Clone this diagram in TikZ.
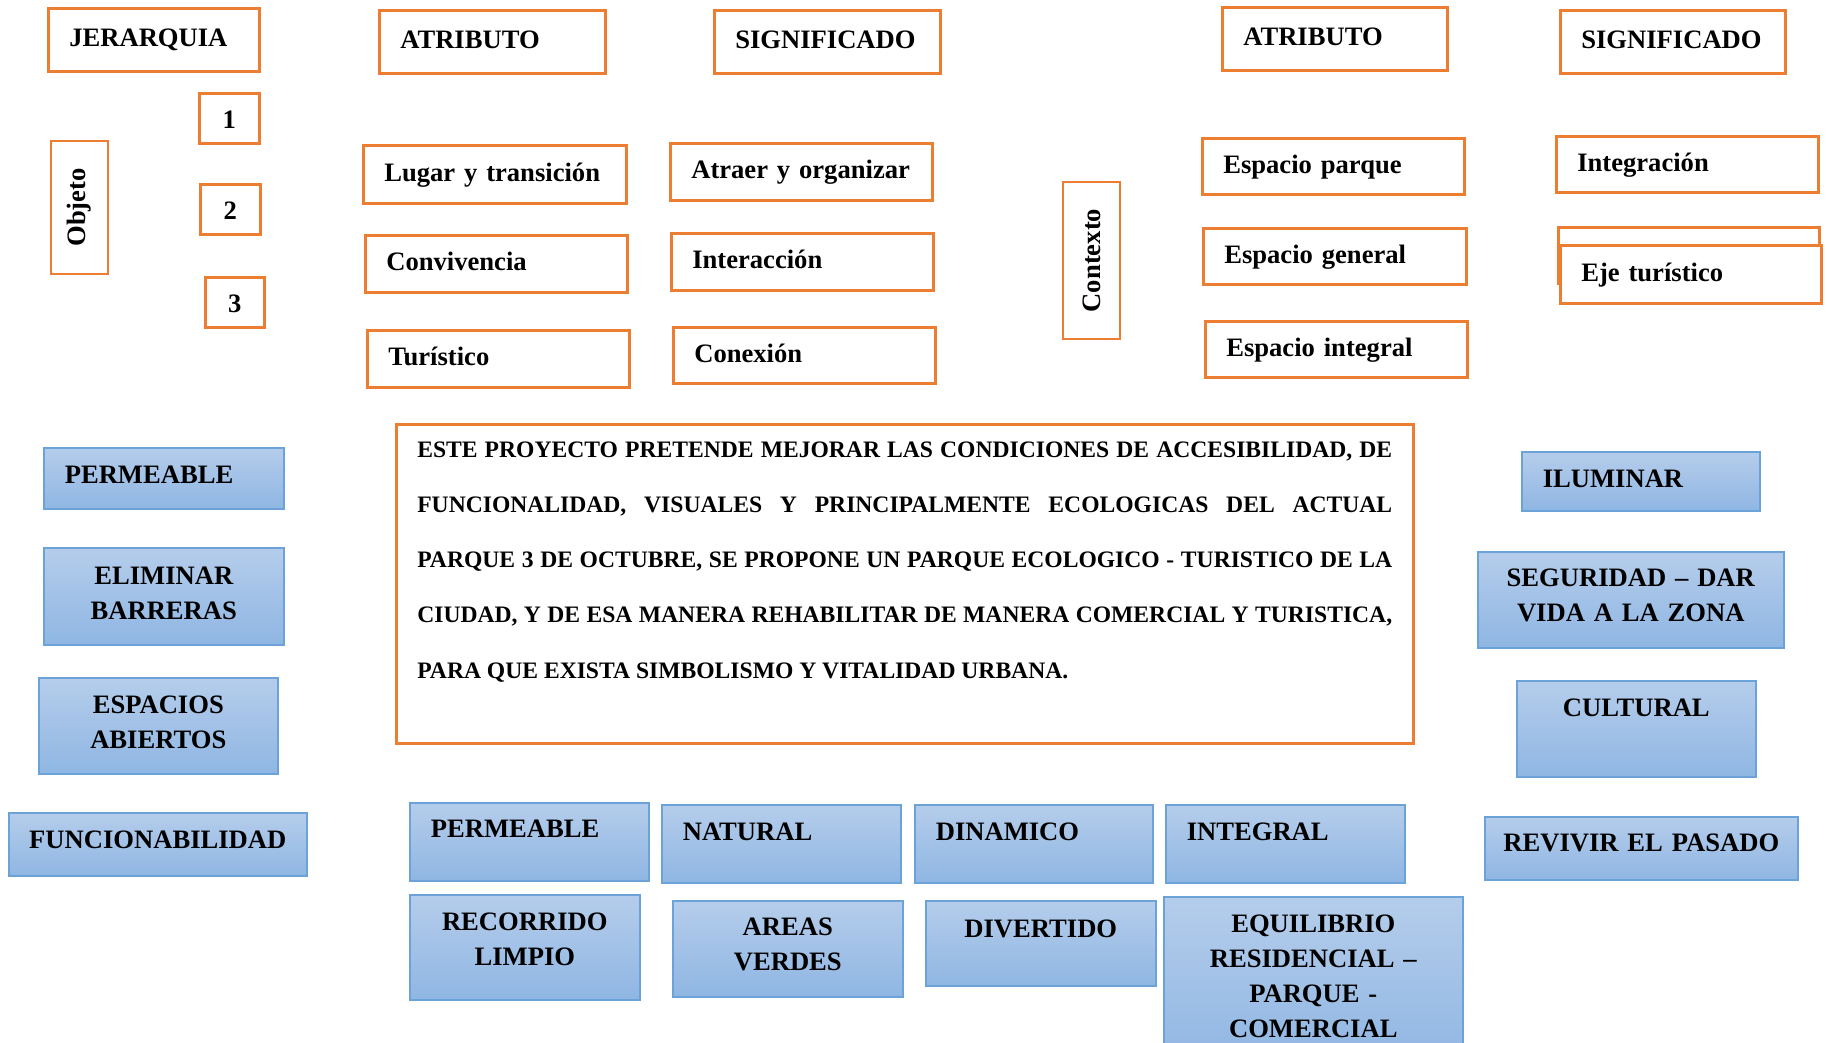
\documentclass[tikz,border=0pt]{standalone}
\usepackage{fontspec}
\setmainfont{Liberation Serif}
\definecolor{naranja}{RGB}{237,125,49}
\definecolor{azulborde}{RGB}{107,162,216}
\definecolor{azulclaro}{RGB}{181,205,235}
\definecolor{azuloscuro}{RGB}{143,182,227}
\usetikzlibrary{positioning}

\begin{document}
\begin{tikzpicture}[
    x=0.5pt, y=-0.5pt,
    etiqueta/.style={rectangle, draw=naranja, line width=1.3pt, fill=white,
      anchor=north west, inner xsep=10.5pt, inner ysep=0pt, align=left,
      font=\bfseries\fontsize{13.3}{17.5}\selectfont},
    vertical/.style={rectangle, draw=naranja, line width=1.3pt, fill=white,
      rotate=90, inner sep=0pt, font=\bfseries\fontsize{13.3}{17.5}\selectfont},
    concepto/.style={rectangle, draw=azulborde, line width=0.8pt,
      top color=azulclaro, bottom color=azuloscuro,
      anchor=north west, inner xsep=10.5pt, inner ysep=0pt, align=left,
      font=\bfseries\fontsize{13.3}{17.5}\selectfont},
    centrado/.style={inner xsep=5pt, align=center}
  ]
    \useasboundingbox (0,0) rectangle (1827,1043);
    \clip (0,0) rectangle (1827,1043);

    % jerarquia y objeto
    \node[etiqueta, text width=84.5pt, text height=19pt, text depth=12.5pt] (jerarquia) at (47,7) {JERARQUIA};
    \node[etiqueta, centrado, text width=20pt, text height=17.5pt, text depth=7.5pt] (uno) at (198,92) {1};
    \node[etiqueta, centrado, text width=20pt, text height=17.5pt, text depth=7.5pt] (dos) at (199,183) {2};
    \node[etiqueta, centrado, text width=19.5pt, text height=17.5pt, text depth=7.5pt] (tres) at (204,276) {3};
    \node[vertical, minimum width=66.5pt, minimum height=28.5pt] (objeto) at (79.5,207.5) {Objeto};

    % atributos y significados del objeto
    \node[etiqueta, text width=92pt, text height=19pt, text depth=12.5pt] (atributo1) at (378,9) {ATRIBUTO};
    \node[etiqueta, text width=92pt, text height=19pt, text depth=12.5pt] (significado1) at (713,9) {SIGNIFICADO};
    \node[etiqueta, text width=110.5pt, text height=18pt, text depth=11pt] (lugar) at (362,144) {Lugar y transición};
    \node[etiqueta, text width=110pt, text height=17.75pt, text depth=10.75pt] (convivencia) at (364,234) {Convivencia};
    \node[etiqueta, text width=110pt, text height=17.75pt, text depth=10.75pt] (turistico) at (366,329) {Turístico};
    \node[etiqueta, text width=110pt, text height=17.75pt, text depth=10.75pt] (atraer) at (669,142) {Atraer y organizar};
    \node[etiqueta, text width=110pt, text height=17.75pt, text depth=10.75pt] (interaccion) at (670,232) {Interacción};
    \node[etiqueta, text width=110pt, text height=17.5pt, text depth=10.5pt] (conexion) at (672,326) {Conexión};

    % contexto
    \node[vertical, minimum width=78.5pt, minimum height=28.5pt] (contexto) at (1091.5,260.5) {Contexto};
    \node[etiqueta, text width=91.5pt, text height=19pt, text depth=12.5pt] (atributo2) at (1221,6) {ATRIBUTO};
    \node[etiqueta, text width=91.5pt, text height=19pt, text depth=12.5pt] (significado2) at (1559,9) {SIGNIFICADO};
    \node[etiqueta, text width=110pt, text height=17.5pt, text depth=10.5pt] (parque) at (1201,137) {Espacio parque};
    \node[etiqueta, text width=110.5pt, text height=17.5pt, text depth=10.5pt] (general) at (1202,227) {Espacio general};
    \node[etiqueta, text width=110pt, text height=17.5pt, text depth=10.5pt] (integral) at (1204,320) {Espacio integral};
    \node[etiqueta, text width=110pt, text height=17.5pt, text depth=10.5pt] (integracion) at (1555,135) {Integración};
    \node[etiqueta, text width=109.5pt, text height=17.5pt, text depth=10.5pt] (oculto) at (1557,226) {};
    \node[etiqueta, text width=109.5pt, text height=18pt, text depth=11pt] (eje) at (1559,244) {Eje turístico};

    % texto central
    \node[etiqueta, align=justify, text width=487.5pt, text height=16.5pt, text depth=143pt,
      font=\bfseries\fontsize{11.8}{27.6}\selectfont] (proyecto) at (395,423)
      {ESTE PROYECTO PRETENDE MEJORAR LAS CONDICIONES DE ACCESIBILIDAD, DE\linebreak
       FUNCIONALIDAD, VISUALES Y PRINCIPALMENTE ECOLOGICAS DEL ACTUAL\linebreak
       PARQUE 3 DE OCTUBRE, SE PROPONE UN PARQUE ECOLOGICO - TURISTICO DE LA\linebreak
       CIUDAD, Y DE ESA MANERA REHABILITAR DE MANERA COMERCIAL Y TURISTICA,\linebreak
       PARA QUE EXISTA SIMBOLISMO Y VITALIDAD URBANA.};

    % columna izquierda
    \node[concepto, text width=99pt, text height=18pt, text depth=12.5pt] (permeable1) at (43,447) {PERMEABLE};
    \node[concepto, centrado, text width=110pt, text height=18.5pt, text depth=30pt] (barreras) at (43,547) {ELIMINAR\\BARRERAS};
    \node[concepto, centrado, text width=109.5pt, text height=18pt, text depth=30pt] (abiertos) at (38,677) {ESPACIOS\\ABIERTOS};
    \node[concepto, centrado, text width=139pt, text height=18pt, text depth=13.5pt] (funcion) at (8,812) {FUNCIONABILIDAD};

    % columna derecha
    \node[concepto, text width=98pt, text height=18pt, text depth=11.5pt] (iluminar) at (1521,451) {ILUMINAR};
    \node[concepto, centrado, text width=143pt, text height=17.5pt, text depth=30.5pt] (seguridad) at (1477,551) {SEGURIDAD – DAR\\VIDA A LA ZONA};
    \node[concepto, centrado, text width=109.5pt, text height=18pt, text depth=30pt] (cultural) at (1516,680) {CULTURAL};
    \node[concepto, centrado, text width=146.5pt, text height=17.5pt, text depth=14pt] (revivir) at (1484,816) {REVIVIR EL PASADO};

    % fila inferior
    \node[concepto, text width=98.5pt, text height=17.5pt, text depth=21.5pt] (permeable2) at (409,802) {PERMEABLE};
    \node[concepto, text width=98.5pt, text height=18pt, text depth=21pt] (natural) at (661,804) {NATURAL};
    \node[concepto, text width=98pt, text height=18pt, text depth=21pt] (dinamico) at (914,804) {DINAMICO};
    \node[concepto, text width=98.5pt, text height=18pt, text depth=21pt] (integral2) at (1165,804) {INTEGRAL};
    \node[concepto, centrado, text width=105pt, text height=17.75pt, text depth=34.75pt] (recorrido) at (409,894) {RECORRIDO\\LIMPIO};
    \node[concepto, centrado, text width=105pt, text height=17.5pt, text depth=30.5pt] (areas) at (672,900) {AREAS\\VERDES};
    \node[concepto, centrado, text width=105pt, text height=18.25pt, text depth=24.25pt] (divertido) at (925,900) {DIVERTIDO};
    \node[concepto, centrado, text width=139.5pt, text height=18pt, text depth=67pt] (equilibrio) at (1163,896) {EQUILIBRIO\\RESIDENCIAL –\\PARQUE -\\COMERCIAL};
  \end{tikzpicture}
\end{document}
